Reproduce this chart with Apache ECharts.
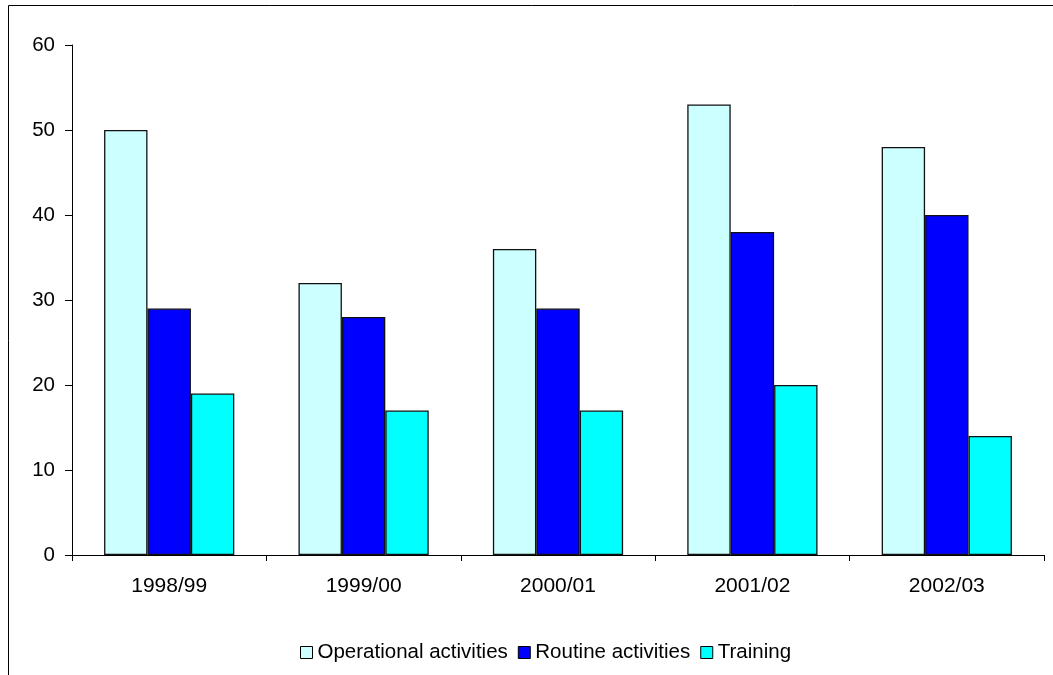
<!DOCTYPE html>
<html>
<head>
<meta charset="utf-8">
<script src="https://cdn.jsdelivr.net/npm/echarts@6/dist/echarts.min.js"></script>
<style>
html,body{margin:0;padding:0;background:#fff;}
#chart{width:1053px;height:675px;}
</style>
</head>
<body>
<div id="chart"></div>
<script>
const categories = ['1998/99', '1999/00', '2000/01', '2001/02', '2002/03'];
const operational = [50, 32, 36, 53, 48];
const routine = [29, 28, 29, 38, 40];
const training = [19, 17, 17, 20, 14];
const yTicks = [0, 10, 20, 30, 40, 50, 60];

const chart = echarts.init(document.getElementById('chart'), null, {renderer: 'canvas'});
const font = 'Liberation Sans, Arial, sans-serif';
const barStyle = (c) => ({color: c, borderColor: '#111', borderWidth: 1.3});
chart.setOption({
  animation: false,
  backgroundColor: '#fff',
  graphic: [{
    type: 'rect',
    shape: {x: 8.5, y: 5.5, width: 1100, height: 700},
    style: {fill: 'none', stroke: '#000', lineWidth: 1},
    silent: true
  }],
  grid: {left: 72, right: 9, top: 45, bottom: 120, containLabel: false},
  legend: {
    top: 642,
    left: 300,
    padding: [0, 0, 0, 0],
    itemWidth: 12,
    itemHeight: 12,
    itemGap: 10,
    icon: 'rect',
    itemStyle: {borderColor: '#000', borderWidth: 1},
    textStyle: {fontFamily: font, fontSize: 20.5, color: '#000', padding: [0, 0, 0, 0]},
    data: ['Operational activities', 'Routine activities', 'Training']
  },
  xAxis: {
    type: 'category',
    data: categories,
    axisLine: {lineStyle: {color: '#000', width: 1}},
    axisTick: {show: true, length: 6, inside: false, lineStyle: {color: '#000'}},
    axisLabel: {fontFamily: font, fontSize: 21, color: '#000', margin: 21}
  },
  yAxis: {
    type: 'value',
    min: yTicks[0],
    max: yTicks[yTicks.length - 1],
    interval: 10,
    splitLine: {show: false},
    axisLine: {show: true, lineStyle: {color: '#000', width: 1}},
    axisTick: {show: true, length: 7, lineStyle: {color: '#000'}},
    axisLabel: {fontFamily: font, fontSize: 20.5, color: '#000', margin: 17}
  },
  series: [
    {name: 'Operational activities', type: 'bar', data: operational, itemStyle: barStyle('#CCFFFF'), barGap: '0%', barCategoryGap: '33%'},
    {name: 'Routine activities', type: 'bar', data: routine, itemStyle: barStyle('#0000FF'), barGap: '0%', barCategoryGap: '33%'},
    {name: 'Training', type: 'bar', data: training, itemStyle: barStyle('#00FFFF'), barGap: '0%', barCategoryGap: '33%'}
  ]
});
</script>
</body>
</html>
